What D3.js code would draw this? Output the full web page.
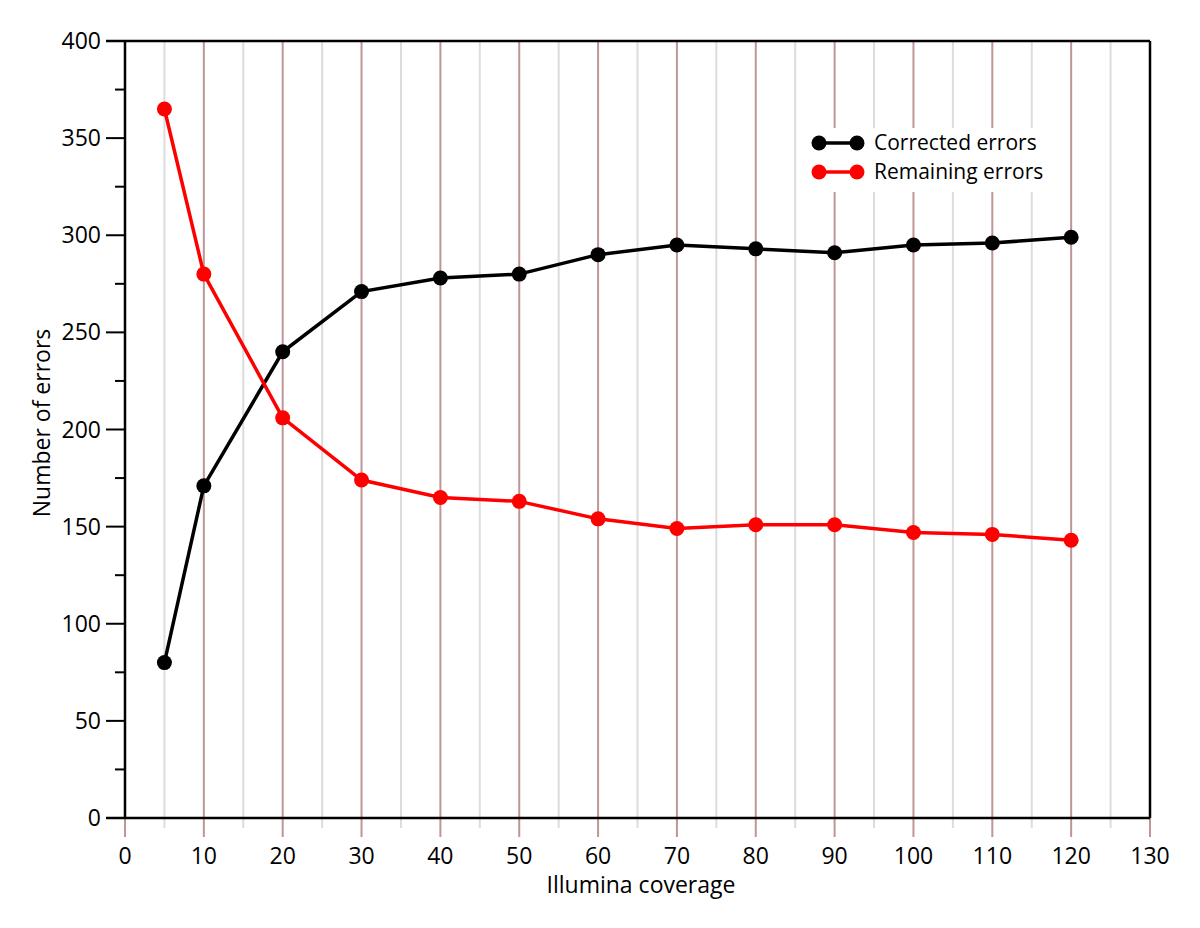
<!DOCTYPE html>
<html><head><meta charset="utf-8">
<script src="https://cdn.jsdelivr.net/npm/d3@7"></script>
<style>body{margin:0;background:#fff}svg{display:block}text{font-family:"Open Sans",sans-serif;fill:#000}</style>
</head><body>
<svg id="c" width="1200" height="928"></svg>
<script>
const coverage = [5,10,20,30,40,50,60,70,80,90,100,110,120];
const corrected = [80,171,240,271,278,280,290,295,293,291,295,296,299];
const remaining = [365,280,206,174,165,163,154,149,151,151,147,146,143];
const xTicks = [0,10,20,30,40,50,60,70,80,90,100,110,120,130];
const yTicks = [0,50,100,150,200,250,300,350,400];
const seriesNames = ["Corrected errors","Remaining errors"];
const seriesColors = ["#000000","#ff0000"];

const svg = d3.select("#c");
const L=125,R=1150,T=41,B=818;
const x = d3.scaleLinear().domain([0,130]).range([L,R]);
const y = d3.scaleLinear().domain([0,400]).range([B,T]);

// minor gridlines every 5
const minor = d3.range(5,130,10);
svg.append("g").selectAll("line").data(minor).join("line")
  .attr("x1",d=>x(d)).attr("x2",d=>x(d)).attr("y1",T).attr("y2",B+10)
  .attr("stroke","#dcdcdc").attr("stroke-width",2);
svg.append("g").selectAll("line").data(xTicks).join("line")
  .attr("x1",d=>x(d)).attr("x2",d=>x(d)).attr("y1",T).attr("y2",B+19)
  .attr("stroke","#bf9595").attr("stroke-width",2);

// legend background
svg.append("rect").attr("x",800).attr("y",128).attr("width",265).attr("height",64).attr("fill","#fff");

// frame
svg.append("line").attr("x1",106).attr("x2",R).attr("y1",T).attr("y2",T).attr("stroke","#000").attr("stroke-width",2.5);
svg.append("line").attr("x1",R).attr("x2",R).attr("y1",T).attr("y2",B).attr("stroke","#000").attr("stroke-width",2.5);
svg.append("line").attr("x1",106).attr("x2",R).attr("y1",B).attr("y2",B).attr("stroke","#000").attr("stroke-width",2.5);
svg.append("line").attr("x1",L).attr("x2",L).attr("y1",T).attr("y2",B).attr("stroke","#000").attr("stroke-width",2.5);

// y ticks
const yMinor = d3.range(25,400,50);
svg.append("g").selectAll("line").data(yTicks).join("line")
  .attr("x1",106).attr("x2",L).attr("y1",d=>y(d)).attr("y2",d=>y(d)).attr("stroke","#000").attr("stroke-width",2);
svg.append("g").selectAll("line").data(yMinor).join("line")
  .attr("x1",115).attr("x2",L).attr("y1",d=>y(d)).attr("y2",d=>y(d)).attr("stroke","#000").attr("stroke-width",2);
svg.append("g").selectAll("text").data(yTicks).join("text")
  .attr("x",101).attr("y",d=>y(d)).attr("dy","0.35em").attr("text-anchor","end")
  .attr("font-size",23).text(d=>d);
svg.append("g").selectAll("text").data(xTicks).join("text")
  .attr("x",d=>x(d)).attr("y",864).attr("text-anchor","middle")
  .attr("font-size",23).text(d=>d);

svg.append("text").attr("x",641).attr("y",893).attr("text-anchor","middle").attr("font-size",23).text("Illumina coverage");
svg.append("text").attr("transform","translate(50,423) rotate(-90)").attr("text-anchor","middle").attr("font-size",23).text("Number of errors");

// series
const data = [corrected, remaining];
const line = d3.line().x((d,i)=>x(coverage[i])).y(d=>y(d));
data.forEach((s,k)=>{
  svg.append("path").datum(s).attr("d",line).attr("fill","none").attr("stroke",seriesColors[k]).attr("stroke-width",3.5);
  svg.append("g").selectAll("circle").data(s).join("circle")
    .attr("cx",(d,i)=>x(coverage[i])).attr("cy",d=>y(d)).attr("r",7.5).attr("fill",seriesColors[k]);
});

// legend
seriesNames.forEach((n,k)=>{
  const ly = 143 + k*29;
  svg.append("line").attr("x1",819).attr("x2",857).attr("y1",ly).attr("y2",ly).attr("stroke",seriesColors[k]).attr("stroke-width",3.5);
  svg.append("circle").attr("cx",819).attr("cy",ly).attr("r",7.5).attr("fill",seriesColors[k]);
  svg.append("circle").attr("cx",857).attr("cy",ly).attr("r",7.5).attr("fill",seriesColors[k]);
  svg.append("text").attr("x",874).attr("y",ly).attr("dy","0.35em").attr("font-size",21).text(n);
});
</script>
</body></html>
